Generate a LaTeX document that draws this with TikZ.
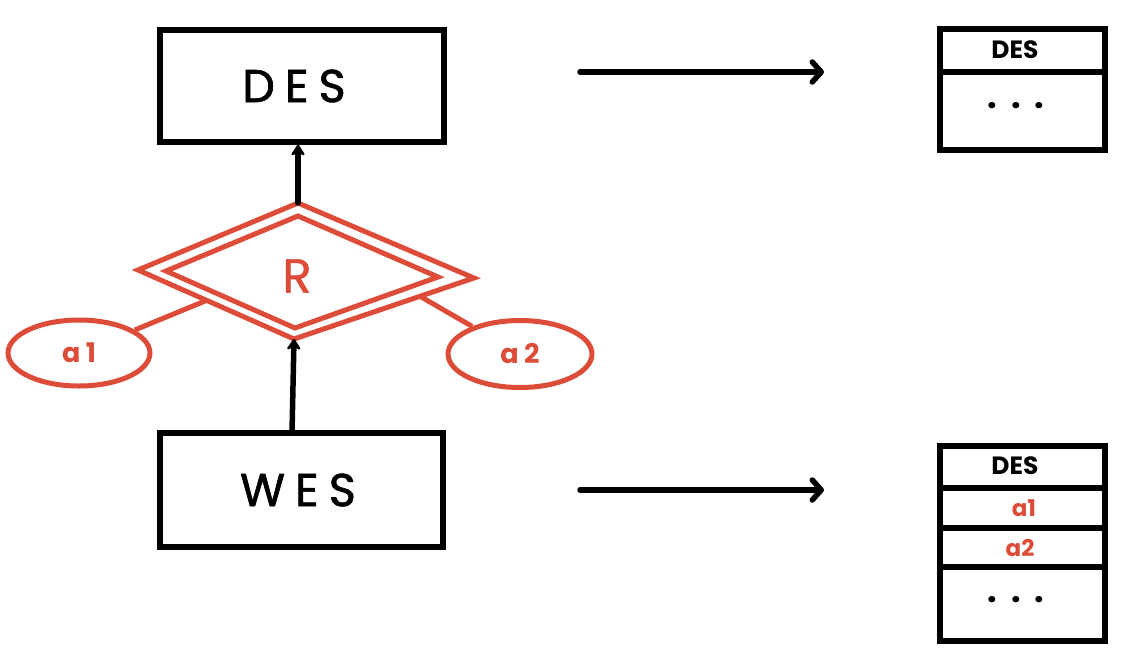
\documentclass[tikz,border=0pt]{standalone}
\usepackage{fontspec}
\setmainfont{Poppins}
\usetikzlibrary{arrows.meta,shapes.geometric,calc}
\definecolor{erred}{RGB}{221,75,57}
\tikzset{
  ent/.style={draw, line width=5.5pt, inner sep=0pt, font=\fontsize{46}{50}\selectfont\addfontfeature{LetterSpace=22,FakeBold=1.5}},
  attr/.style={draw=erred, ellipse, line width=5pt, inner sep=0pt, text=erred, font=\fontsize{27}{30}\selectfont\bfseries\addfontfeature{LetterSpace=20}},
  rel/.style={draw=erred, line width=5pt, line join=miter},
  tbl/.style={draw, line width=5.5pt, inner sep=0pt},
  tbltxt/.style={font=\fontsize{25}{28}\selectfont\bfseries, inner sep=0pt},
  redtxt/.style={font=\fontsize{23}{26}\selectfont\bfseries, text=erred, inner sep=0pt},
  dotstxt/.style={font=\fontsize{34}{34}\selectfont\bfseries, inner sep=0pt},
  conn/.style={line width=5.5pt, line cap=round},
  uparrow/.style={conn, -{Stealth[length=13pt,width=17pt,round]}},
  maparrow/.style={conn, -{Straight Barb[length=9pt,width=20pt,line width=5.5pt,round]}},
}
\begin{document}
\begin{tikzpicture}[x=1pt,y=-1pt]
\useasboundingbox (0,0) rectangle (1145,667);

% entities
\node[ent, minimum width=284pt, minimum height=112pt] (des) at (302,86) {};
\node[ent, draw=none, inner sep=0pt] (destxt) at (294,86) {DES};
\node[ent, minimum width=283pt, minimum height=114pt] (wes) at (301.5,490) {};
\node[ent, draw=none, inner sep=0pt] (westxt) at (298,490) {WES};

% relationship diamond (double)
\coordinate (Rl) at (138,270);
\coordinate (Rt) at (298,203);
\coordinate (Rr) at (474,278);
\coordinate (Rb) at (294,339);
\coordinate (rl) at (166,271);
\coordinate (rt) at (298,216);
\coordinate (rr) at (438,277);
\coordinate (rb) at (295,328);
\draw[rel] (Rl) -- (Rt) -- (Rr) -- (Rb) -- cycle;
\draw[rel] (rl) -- (rt) -- (rr) -- (rb) -- cycle;
\node[text=erred, font=\fontsize{48}{50}\selectfont\addfontfeature{FakeBold=1}] (R) at (297,276) {R};

% attributes
\node[attr, minimum width=142pt, minimum height=66pt] (a1) at (79,353) {a1};
\node[attr, minimum width=144pt, minimum height=67pt] (a2) at (520,354) {a2};
\coordinate (p1) at ($(Rl)!0.44!(Rb)$);
\coordinate (p2) at ($(Rr)!0.3!(Rb)$);
\draw[erred, line width=5pt] (a1) -- (p1);
\draw[erred, line width=5pt] (a2) -- (p2);

% arrows
\draw[uparrow] (Rt) -- (des.south -| Rt);
\coordinate (wtop) at (292,433);
\draw[uparrow] (wtop) -- (Rb);

% mapping arrows
\coordinate (m1s) at (580,72);
\coordinate (m1e) at (824,72);
\coordinate (m2s) at (580,490);
\coordinate (m2e) at (824,490);
\draw[maparrow] (m1s) -- (m1e);
\draw[maparrow] (m2s) -- (m2e);

% top table
\node[tbl, minimum width=165pt, minimum height=121pt] (t1) at (1022.5,89.5) {};
\coordinate (t1d) at (0,72);
\draw[line width=5.5pt] (t1.west |- t1d) -- (t1.east |- t1d);
\node[tbltxt] (t1n) at (1015,50) {DES};
\node[dotstxt] (t1dots) at (1016,106) {.\hspace{14pt}.\hspace{14pt}.};

% bottom table
\node[tbl, minimum width=165pt, minimum height=195pt] (t2) at (1022.5,543.5) {};
\coordinate (t2d1) at (0,488);
\coordinate (t2d2) at (0,528);
\coordinate (t2d3) at (0,567);
\draw[line width=5.5pt] (t2.west |- t2d1) -- (t2.east |- t2d1);
\draw[line width=5.5pt] (t2.west |- t2d2) -- (t2.east |- t2d2);
\draw[line width=5.5pt] (t2.west |- t2d3) -- (t2.east |- t2d3);
\node[tbltxt] (t2n) at (1015,466) {DES};
\node[redtxt] (t2a1) at (1024,508) {a1};
\node[redtxt] (t2a2) at (1020,548) {a2};
\node[dotstxt] (t2dots) at (1016,600) {.\hspace{14pt}.\hspace{14pt}.};
\end{tikzpicture}
\end{document}
